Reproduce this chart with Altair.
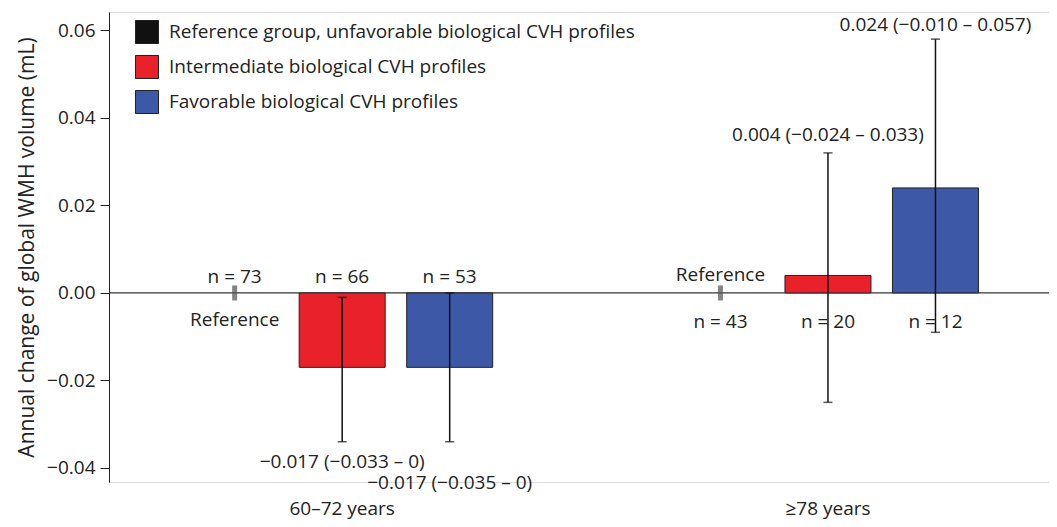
import altair as alt
import pandas as pd

groups = ["60–72 years", "≥78 years"]
profiles = [
    "Reference group, unfavorable biological CVH profiles",
    "Intermediate biological CVH profiles",
    "Favorable biological CVH profiles",
]
colors = ["#111111", "#E8212A", "#3D58A7"]

row_group = [groups[0]] * 3 + [groups[1]] * 3
row_profile = profiles * 2
means = [0.0, -0.017, -0.017, 0.0, 0.004, 0.024]
ci_lo = [None, -0.034, -0.034, None, -0.025, -0.009]
ci_hi = [None, -0.001, 0.0, None, 0.032, 0.058]
n_vals = [73, 66, 53, 43, 20, 12]
ci_text = ["", "−0.017 (−0.033 – 0)", "−0.017 (−0.035 – 0)", "", "0.004 (−0.024 – 0.033)", "0.024 (−0.010 – 0.057)"]

df = pd.DataFrame({
    "group": row_group,
    "profile": row_profile,
    "mean": means,
    "lo": ci_lo,
    "hi": ci_hi,
    "n": [f"n = {v}" for v in n_vals],
    "ci": ci_text,
    "ref": ["Reference" if p == profiles[0] else "" for p in row_profile],
    "idx": list(range(6)),
})

FONT = "Open Sans"
TXT = "#222222"
FS = 19

x_enc = alt.X("group:N", sort=groups,
              scale=alt.Scale(paddingInner=0.09, paddingOuter=0.0125, align=1),
              axis=alt.Axis(title=None, domain=False, ticks=False, labelAngle=0,
                            labelPadding=17, labelFontSize=FS, labelFont=FONT,
                            labelColor=TXT))
xo_enc = alt.XOffset("profile:N", sort=profiles,
                     scale=alt.Scale(domain=profiles, paddingInner=0.2, paddingOuter=0.656))
y_scale = alt.Scale(domain=[-0.0432, 0.0642], nice=False, zero=False)
y_enc = alt.Y("mean:Q", scale=y_scale,
              axis=alt.Axis(title="Annual change of global WMH volume (mL)",
                            values=[-0.04, -0.02, 0.0, 0.02, 0.04, 0.06], format=".2f",
                            labelExpr="replace(datum.label, '-', '−')",
                            grid=False, domainColor="#222", tickColor="#222",
                            tickSize=9, labelPadding=5, labelFontSize=FS,
                            labelFont=FONT, labelColor=TXT,
                            titleFont=FONT, titleFontSize=21, titleFontWeight="normal",
                            titleColor=TXT, titlePadding=9))

base = alt.Chart(df)

zero = alt.Chart(pd.DataFrame({"z": [0.0]})).mark_rule(color="#333", strokeWidth=1.2).encode(
    y=alt.Y("z:Q", scale=y_scale)
)

bars = base.transform_filter(alt.datum.idx % 3 != 0).mark_bar(
    stroke="#222", strokeWidth=1
).encode(
    x=x_enc, xOffset=xo_enc, y=y_enc,
    color=alt.Color("profile:N",
                    scale=alt.Scale(domain=profiles, range=colors),
                    legend=alt.Legend(title=None, orient="none", legendX=26, legendY=8,
                                      symbolType="square", symbolSize=529,
                                      symbolStrokeColor="#222", symbolStrokeWidth=1,
                                      symbolOpacity=1,
                                      labelFont=FONT, labelFontSize=FS, labelColor=TXT,
                                      labelOffset=10, rowPadding=7, padding=0,
                                      labelLimit=700)),
)

ref_ticks = base.transform_filter(alt.datum.idx % 3 == 0).mark_tick(
    orient="vertical", size=15, thickness=5, color="#505050"
).encode(x=x_enc, xOffset=xo_enc, y=alt.Y("mean:Q", scale=y_scale))

err = base.transform_filter(alt.datum.idx % 3 != 0).mark_rule(color="#111", strokeWidth=1.5).encode(
    x=x_enc, xOffset=xo_enc, y=alt.Y("lo:Q", scale=y_scale), y2="hi:Q"
)
cap_lo = base.transform_filter(alt.datum.idx % 3 != 0).mark_tick(
    orient="horizontal", size=9, thickness=1.5, color="#111"
).encode(x=x_enc, xOffset=xo_enc, y=alt.Y("lo:Q", scale=y_scale))
cap_hi = base.transform_filter(alt.datum.idx % 3 != 0).mark_tick(
    orient="horizontal", size=9, thickness=1.5, color="#111"
).encode(x=x_enc, xOffset=xo_enc, y=alt.Y("hi:Q", scale=y_scale))


def txt(filter_expr, field, yfield, dy):
    return base.transform_filter(filter_expr).transform_calculate(base0="0").mark_text(
        font=FONT, fontSize=FS, color=TXT, baseline="middle", dy=dy
    ).encode(x=x_enc, xOffset=xo_enc, y=alt.Y(f"{yfield}:Q", scale=y_scale), text=f"{field}:N")


n1 = txt("datum.idx < 3", "n", "base0", -16)
n2 = txt("datum.idx >= 3", "n", "base0", 29)
ref1 = txt("datum.idx == 0", "ref", "base0", 27)
ref2 = txt("datum.idx == 3", "ref", "base0", -18)
ci1 = txt("datum.idx == 1", "ci", "lo", 20)
ci2 = txt("datum.idx == 2", "ci", "lo", 41)
ci4 = txt("datum.idx == 4", "ci", "hi", -18)
ci5 = txt("datum.idx == 5", "ci", "hi", -14)

chart = alt.layer(
    zero, bars, ref_ticks, err, cap_lo, cap_hi, n1, n2, ref1, ref2, ci1, ci2, ci4, ci5
).properties(
    width=940, height=470,
    autosize=alt.AutoSizeParams(type="none"),
    padding={"left": 101, "top": 4, "right": 0, "bottom": 37},
).configure_view(stroke=None).configure(background="white")

chart.save("out.html", embed_options={"renderer": "svg", "actions": False})
